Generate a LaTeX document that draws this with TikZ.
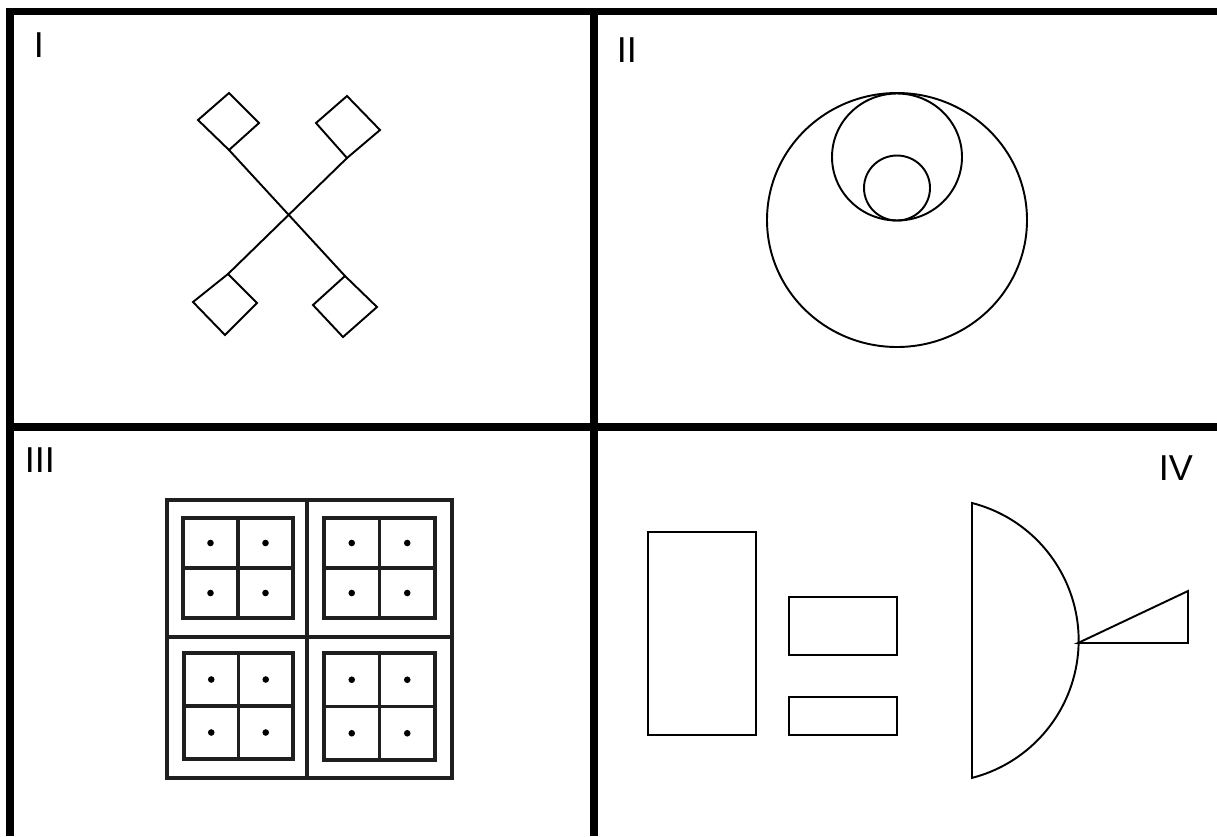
\documentclass[tikz,border=0pt]{standalone}
\usepackage{fontspec}
\setmainfont{Liberation Sans}
\usetikzlibrary{calc}

\begin{document}
\begin{tikzpicture}[x=0.02cm,y=-0.02cm,
    frame/.style={line width=4pt,line join=miter},
    figline/.style={line width=1.1pt,line join=miter},
    gridline/.style={line width=2.2pt,black!88},
    panellabel/.style={anchor=base west,inner sep=0pt,font=\fontsize{20.5}{24}\selectfont}]
    \useasboundingbox[fill=white] (0,0) rectangle (1217,836);
    \draw[frame] (10,836) -- (10,11.5) -- (1217,11.5);
    \draw[frame] (594,11.5) -- (594,836);
    \draw[frame] (10,427) -- (1217,427);

    \node[panellabel] (lblI) at (33.6,57) {I};
    \node[panellabel] (lblII) at (616.6,62) {II};
    \node[panellabel] (lblIII) at (24.6,472) {III};
    \node[panellabel] (lblIV) at (1158.6,480) {IV};

    \coordinate (tlj) at (229,150);
    \coordinate (trj) at (347,158);
    \coordinate (blj) at (228,274);
    \coordinate (brj) at (345,276);
    \draw[figline] (tlj) -- (brj);
    \draw[figline] (trj) -- (blj);
    \draw[figline] (tlj) -- (198,120) -- (229,93) -- (259,123) -- cycle;
    \draw[figline] (trj) -- (316,123) -- (347,96) -- (380,130) -- cycle;
    \draw[figline] (blj) -- (257,303) -- (225,335) -- (193,302) -- cycle;
    \draw[figline] (brj) -- (377,307) -- (343,337) -- (313,305) -- cycle;

    \draw[figline] (897,220) ellipse[x radius=130,y radius=127];
    \draw[figline] (897,157) ellipse[x radius=65,y radius=63.5];
    \draw[figline] (897,188) ellipse[x radius=33,y radius=32.5];

    \draw[gridline] (167,500) rectangle (452,778);
    \draw[gridline] (307,500) -- (307,778);
    \draw[gridline] (167,637) -- (452,637);
    \foreach \xa/\ya/\xb/\yb in {183/518/293/618, 324/518/435/618, 184/653/293/759, 324/653/435/760} {
      \draw[gridline] (\xa,\ya) rectangle (\xb,\yb);
      \draw[gridline] ({(\xa+\xb)/2},\ya) -- ({(\xa+\xb)/2},\yb);
      \draw[gridline] (\xa,{(\ya+\yb)/2}) -- (\xb,{(\ya+\yb)/2});
      \foreach \fx in {0.25,0.75}
        \foreach \fy in {0.25,0.75}
          \fill ({\xa+\fx*(\xb-\xa)},{\ya+\fy*(\yb-\ya)}) circle[radius=3.3];
    }

    \draw[figline] (648,532) rectangle (756,735);
    \draw[figline] (789,597) rectangle (897,655);
    \draw[figline] (789,697) rectangle (897,735);
    \coordinate (tip) at (1078,643);
    \draw[figline] (972,503) arc[start angle=-75.6,end angle=75.6,radius=141.9] -- cycle;
    \draw[figline] (tip) -- (1188,591) -- (1188,643) -- cycle;
  \end{tikzpicture}
\end{document}
